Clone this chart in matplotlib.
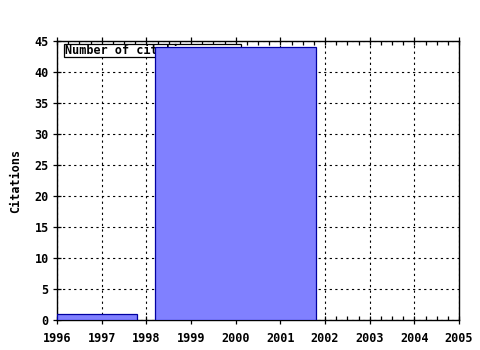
import matplotlib
matplotlib.use("Agg")
import matplotlib.pyplot as plt
from matplotlib.patches import Rectangle
from matplotlib.ticker import AutoMinorLocator

bar_lefts = [1996.0, 1998.2]
bar_widths = [1.8, 3.6]
citations = [1, 44]
xticks = [1996, 1997, 1998, 1999, 2000, 2001, 2002, 2003, 2004, 2005]
yticks = [0, 5, 10, 15, 20, 25, 30, 35, 40, 45]
legend_label = "Number of citations"
ylabel = "Citations"

font = {"family": "DejaVu Sans Mono", "weight": "bold", "size": 8.5}

fig = plt.figure(figsize=(4.8, 3.5), dpi=100)
ax = fig.add_axes([57/480, 1-320/350, (459-57)/480, (320-41)/350])

ax.set_xlim(1996, 2005)
ax.set_ylim(0, 45)

ax.grid(True, which="major", color="black", linestyle=(0, (2, 3)), linewidth=0.8, zorder=0)
ax.set_axisbelow(True)

# legend box (drawn behind bars)
ax.add_patch(Rectangle((1996.157, 42.42), 2000.12-1996.157, 44.52-42.42,
                       facecolor="white", edgecolor="black", linewidth=0.9, zorder=2))
ax.text(1996.18, 43.4, legend_label, fontdict=font, va="center", ha="left", zorder=2.5)

ax.bar(bar_lefts, citations, width=bar_widths, align="edge",
       color="#8080ff", edgecolor="#0000a0", linewidth=0.9, zorder=3)

ax.set_xticks(xticks)
ax.set_xticklabels([str(t) for t in xticks], fontdict=font)
ax.set_yticks(yticks)
ax.set_yticklabels([str(t) for t in yticks], fontdict=font)
ax.xaxis.set_minor_locator(AutoMinorLocator(4))

ax.tick_params(axis="x", which="major", direction="inout", length=6, top=True, bottom=True, width=0.9, pad=6)
ax.tick_params(axis="x", which="minor", direction="in", length=3, top=True, bottom=True, width=0.9)
ax.tick_params(axis="y", which="major", direction="inout", length=6, left=True, right=False, width=0.9, pad=3)

for s in ax.spines.values():
    s.set_linewidth(1.0)
    s.set_color("black")

ax.set_ylabel(ylabel, fontdict=font, labelpad=9)

fig.savefig("out.png", dpi=100, facecolor="white")
